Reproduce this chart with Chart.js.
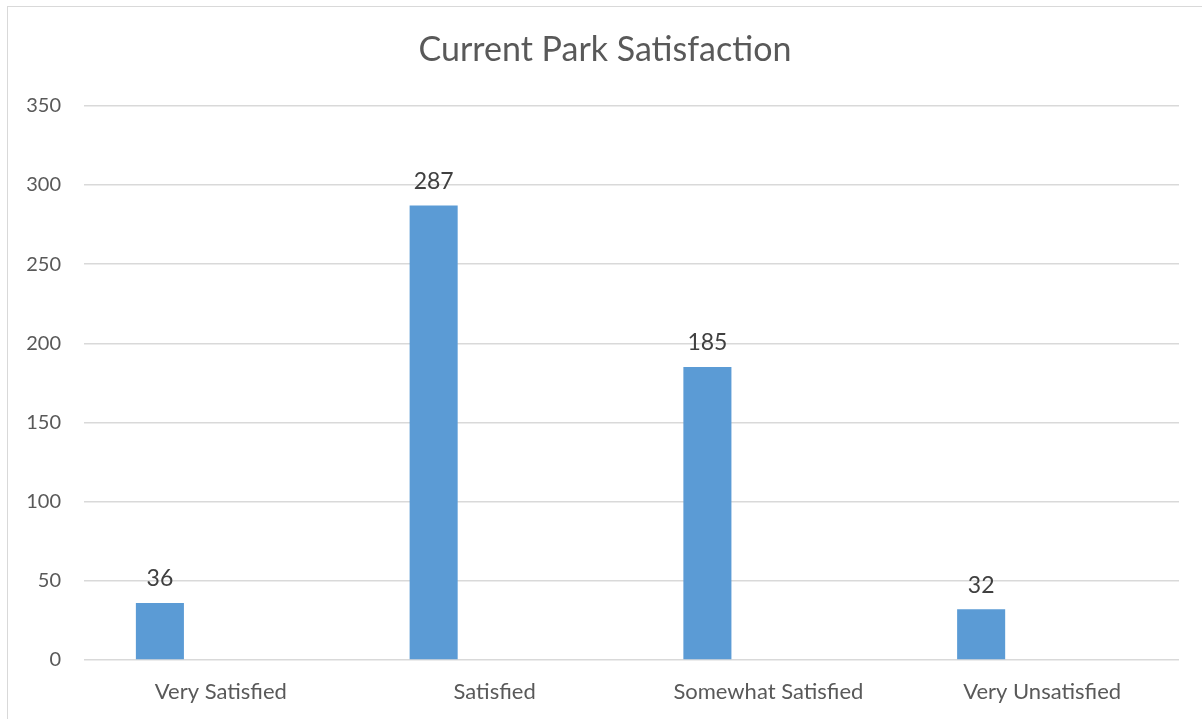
<!DOCTYPE html>
<html>
<head>
<meta charset="utf-8">
<script src="https://cdn.jsdelivr.net/npm/chart.js@4/dist/chart.umd.min.js"></script>
<style>
  html, body { margin: 0; padding: 0; background: #fff; }
  #wrap {
    position: absolute; left: 7px; top: 6px; width: 1195px; height: 713px;
    border-left: 1px solid #d9d9d9; border-top: 1px solid #d9d9d9;
  }
  canvas { display: block; }
</style>
</head>
<body>
<div id="wrap"><canvas id="parkChart" width="1194" height="712"></canvas></div>
<script>
const categories = ['Very Satisfied', 'Satisfied', 'Somewhat Satisfied', 'Very Unsatisfied'];
const responses = [36, 287, 185, 32];
const emptySeries = [null, null, null, null];
const yTicks = [0, 50, 100, 150, 200, 250, 300, 350];

const textColor = '#595959';
const fontFamily = 'Lato, "Open Sans", sans-serif';

const valueLabels = {
    id: 'valueLabels',
    afterDatasetsDraw(chart) {
        const ctx = chart.ctx;
        const meta = chart.getDatasetMeta(0);
        ctx.save();
        ctx.fillStyle = '#404040';
        ctx.font = '23px ' + fontFamily;
        ctx.textAlign = 'center';
        ctx.textBaseline = 'middle';
        meta.data.forEach((bar, i) => {
            ctx.fillText(responses[i], bar.x, bar.y - 24);
        });
        ctx.restore();
    }
};

const ctx = document.getElementById('parkChart').getContext('2d');
new Chart(ctx, {
    type: 'bar',
    data: {
        labels: categories,
        datasets: [
            { label: 'Responses', data: responses, backgroundColor: '#5b9bd5', borderWidth: 0 },
            { label: '', data: emptySeries, backgroundColor: '#ed7d31', borderWidth: 0 }
        ]
    },
    options: {
        responsive: false,
        animation: false,
        categoryPercentage: 0.891,
        barPercentage: 0.394,
        layout: { padding: 0 },
        plugins: {
            legend: { display: false },
            tooltip: { enabled: false },
            title: {
                display: true,
                text: 'Current Park Satisfaction',
                color: textColor,
                font: { family: fontFamily, size: 34, weight: 'normal' },
                padding: { top: 23, bottom: 35 }
            }
        },
        scales: {
            x: {
                grid: { display: false, drawTicks: false },
                border: { display: false },
                ticks: { color: textColor, font: { family: fontFamily, size: 22 }, padding: 19 },
                afterFit(scale) { scale.height = 59; }
            },
            y: {
                min: 0,
                max: 350,
                afterBuildTicks(scale) { scale.ticks = yTicks.map(v => ({ value: v })); },
                grid: { color: '#d9d9d9', lineWidth: 1.5, drawTicks: false },
                border: { display: false },
                ticks: { color: textColor, font: { family: fontFamily, size: 20 }, padding: 23 },
                afterFit(scale) { scale.width = 76; }
            },
            // empty right margin so the title centres on the whole frame
            yRight: {
                position: 'right',
                min: 0,
                max: 350,
                grid: { display: false, drawTicks: false },
                border: { display: false },
                ticks: { display: false },
                afterFit(scale) { scale.width = 23; }
            }
        }
    },
    plugins: [valueLabels]
});
</script>
</body>
</html>
